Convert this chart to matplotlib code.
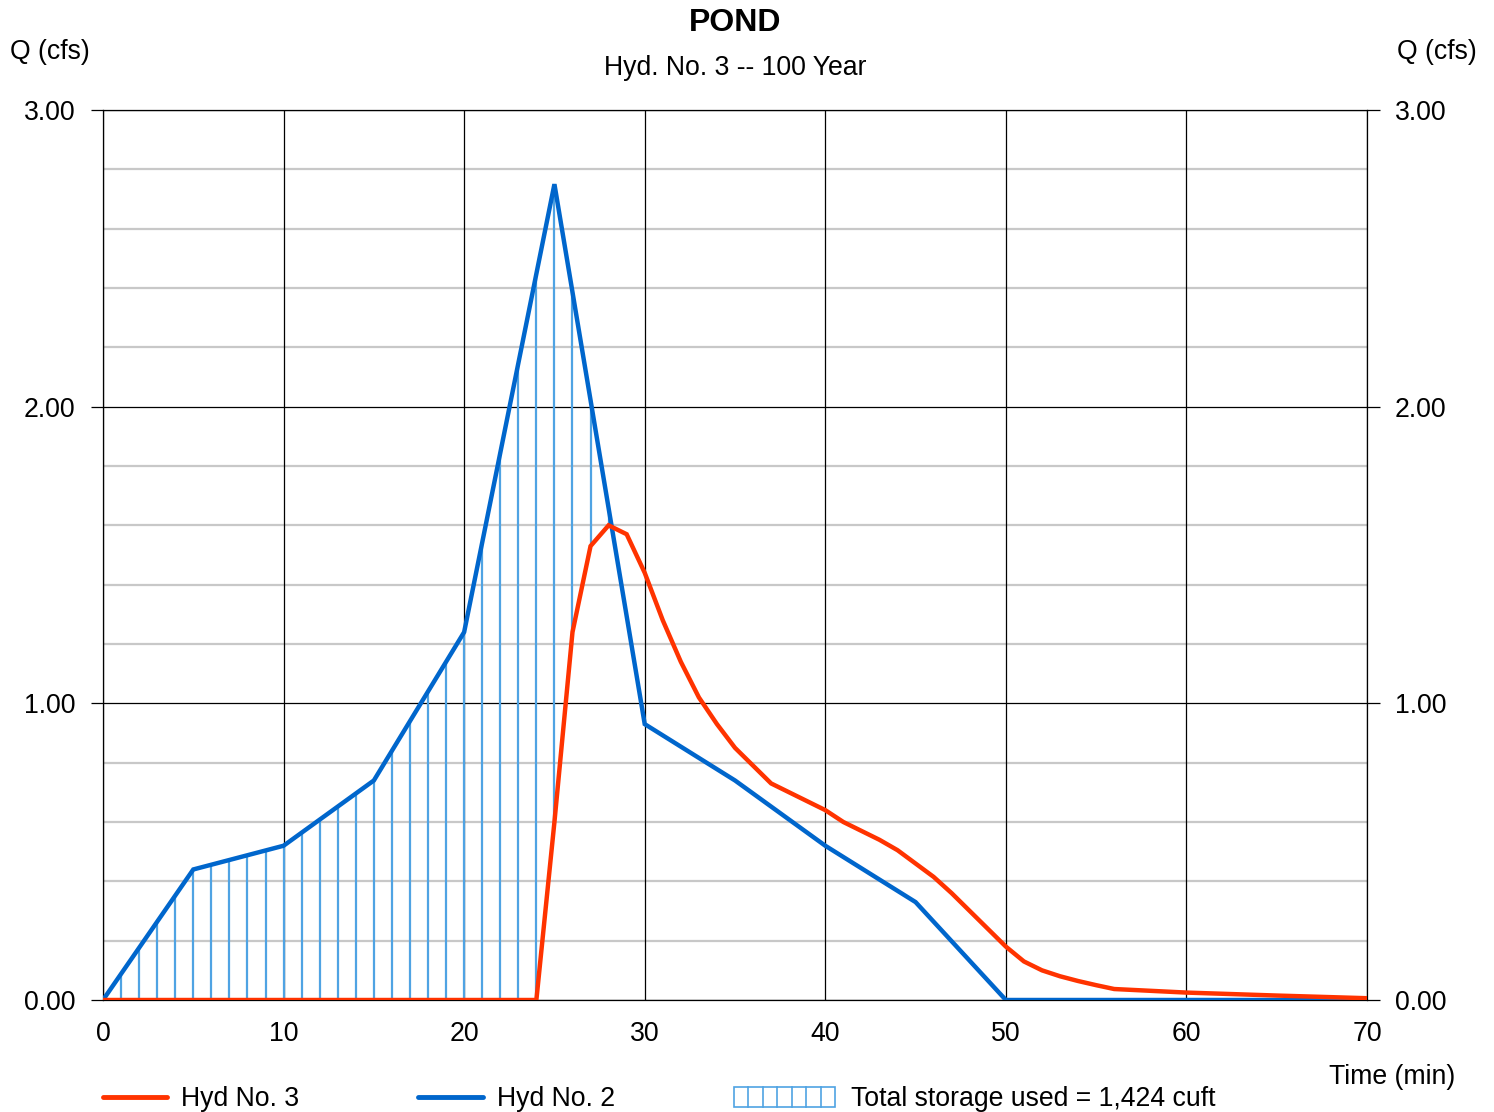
import numpy as np
import matplotlib
matplotlib.use("Agg")
import matplotlib.pyplot as plt
from matplotlib.lines import Line2D
from matplotlib.patches import Rectangle

plt.rcParams['font.family'] = ['Liberation Sans', 'DejaVu Sans']

# ---- data ----
title = "POND"
subtitle = "Hyd. No. 3 -- 100 Year"
x_ticks = [0, 10, 20, 30, 40, 50, 60, 70]
y_ticks = [0.0, 1.0, 2.0, 3.0]
y_minor = [0.2, 0.4, 0.6, 0.8, 1.2, 1.4, 1.6, 1.8, 2.2, 2.4, 2.6, 2.8]

# Hyd No. 2 (inflow)
hyd2_t = [0, 5, 10, 15, 20, 25, 30, 35, 40, 45, 50, 70]
hyd2_q = [0.0, 0.44, 0.52, 0.74, 1.24, 2.75, 0.93, 0.74, 0.52, 0.33, 0.0, 0.0]

# Hyd No. 3 (outflow)
hyd3_t = [0, 24, 25, 26, 27, 28, 29, 30, 31, 32, 33, 34, 35, 36, 37, 38, 39, 40,
          41, 42, 43, 44, 45, 46, 47, 48, 49, 50, 51, 52, 53, 54, 55, 56, 60, 65, 70]
hyd3_q = [0.0, 0.0, 0.60, 1.24, 1.53, 1.60, 1.57, 1.44, 1.28, 1.14, 1.02, 0.93,
          0.85, 0.79, 0.73, 0.70, 0.67, 0.64, 0.60, 0.57, 0.54, 0.505, 0.46, 0.415,
          0.36, 0.30, 0.24, 0.18, 0.13, 0.10, 0.08, 0.064, 0.05, 0.037, 0.025,
          0.015, 0.006]

storage_text = "Total storage used = 1,424 cuft"

RED = '#FF3300'
BLUE = '#0066CC'
HATCH = '#4FA3E3'
FS = 19.2

fig = plt.figure(figsize=(14.94, 11.12), dpi=100)
ax = fig.add_axes([103/1494, 1 - 1000/1112, (1367-103)/1494, (1000-110)/1112])

ax.set_xlim(0, 70)
ax.set_ylim(0, 3)

# grid
for y in y_minor:
    ax.axhline(y, color='#C8C8C8', lw=1.6, zorder=1)
for y in y_ticks:
    ax.axhline(y, color='black', lw=0.9, zorder=1.5)
for x in x_ticks:
    ax.axvline(x, color='black', lw=0.9, zorder=1.5)

# storage hatch: vertical lines each minute between outflow and inflow
mins = np.arange(1, 70)
q_in = np.interp(mins, hyd2_t, hyd2_q)
q_out = np.interp(mins, hyd3_t, hyd3_q)
mask = q_in > q_out + 0.01
ax.vlines(mins[mask], q_out[mask], q_in[mask], color=HATCH, lw=1.6, zorder=2)

ax.plot(hyd2_t, hyd2_q, color=BLUE, lw=3.2, zorder=3, solid_joinstyle='miter')
ax.plot(hyd3_t, hyd3_q, color=RED, lw=3.2, zorder=4, solid_joinstyle='miter')

for s in ax.spines.values():
    s.set_color('black')
    s.set_linewidth(0.9)

ax.set_xticks(x_ticks)
ax.set_xticklabels([str(v) for v in x_ticks])
ax.set_yticks(y_ticks)
ax.set_yticklabels([f"{v:.2f}" for v in y_ticks])
ax.tick_params(axis='x', length=0, pad=15, labelsize=FS)
ax.tick_params(axis='y', direction='out', length=9, width=0.9, pad=11,
               left=True, right=True, labelleft=True, labelright=True, labelsize=FS)
for lab in ax.get_yticklabels(which='both'):
    pass

# titles and axis labels
fig.text(735/1494, 1 - 23/1112, title, ha='center', va='center', fontsize=23, fontweight='bold')
fig.text(735/1494, 1 - 68/1112, subtitle, ha='center', va='center', fontsize=FS)
fig.text(10/1494, 1 - 52/1112, "Q (cfs)", ha='left', va='center', fontsize=FS)
fig.text(1477/1494, 1 - 52/1112, "Q (cfs)", ha='right', va='center', fontsize=FS)
fig.text(1455/1494, 1 - 1077/1112, "Time (min)", ha='right', va='center', fontsize=FS)

# legend
ly = 1 - 1097/1112
fig.add_artist(Line2D([103/1494, 167/1494], [ly, ly], color=RED, lw=3.5,
                      solid_capstyle='round', transform=fig.transFigure))
fig.text(181/1494, 1 - 1099/1112, "Hyd No. 3", ha='left', va='center', fontsize=FS)
fig.add_artist(Line2D([418/1494, 483/1494], [ly, ly], color=BLUE, lw=3.5,
                      solid_capstyle='round', transform=fig.transFigure))
fig.text(497/1494, 1 - 1099/1112, "Hyd No. 2", ha='left', va='center', fontsize=FS)

rx0, rx1 = 734/1494, 835/1494
ry0, ry1 = 1 - 1107/1112, 1 - 1087/1112
fig.add_artist(Rectangle((rx0, ry0), rx1 - rx0, ry1 - ry0, transform=fig.transFigure,
                         fill=False, edgecolor=HATCH, lw=1.2))
for i in range(1, 7):
    xx = rx0 + (rx1 - rx0) * i / 7
    fig.add_artist(Line2D([xx, xx], [ry0, ry1], color=HATCH, lw=1.2, transform=fig.transFigure))
fig.text(851/1494, 1 - 1099/1112, storage_text, ha='left', va='center', fontsize=FS)

fig.savefig("out.png", dpi=100)
